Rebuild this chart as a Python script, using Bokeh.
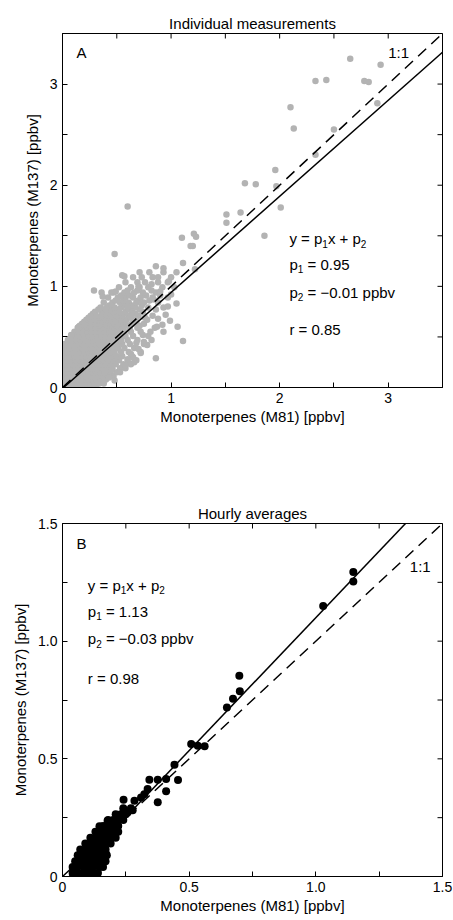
import math
from bokeh.plotting import figure
from bokeh.models import Range1d, FixedTicker
from bokeh.layouts import column
from bokeh.core.properties import value
from bokeh.embed import file_html
from bokeh.resources import INLINE

FONT = "Liberation Sans"

# ---------------- Panel A: individual measurements ----------------
title_a = "Individual measurements"
xlabel = "Monoterpenes (M81) [ppbv]"
ylabel = "Monoterpenes (M137) [ppbv]"

# dense cloud, read row by row: (M137 level, list of M81 values)
cloud_a = [
    (0.01, [0.00, 0.04, 0.07, 0.11, 0.14, 0.18, 0.21, 0.25, 0.28, 0.31]),
    (0.04, [0.02, 0.05, 0.09, 0.12, 0.16, 0.19, 0.23, 0.26, 0.30, 0.34]),
    (0.08, [0.00, 0.03, 0.07, 0.10, 0.14, 0.17, 0.21, 0.24, 0.28, 0.31, 0.35, 0.40]),
    (0.11, [0.01, 0.05, 0.08, 0.12, 0.15, 0.19, 0.22, 0.26, 0.29, 0.33, 0.37, 0.42, 0.47]),
    (0.15, [0.00, 0.03, 0.07, 0.10, 0.14, 0.17, 0.21, 0.24, 0.28, 0.31, 0.35, 0.39, 0.44, 0.50]),
    (0.19, [0.01, 0.05, 0.08, 0.12, 0.15, 0.19, 0.22, 0.26, 0.30, 0.33, 0.37, 0.41, 0.46, 0.53, 0.58]),
    (0.23, [0.00, 0.03, 0.07, 0.10, 0.14, 0.17, 0.21, 0.25, 0.28, 0.32, 0.36, 0.40, 0.44, 0.49, 0.56, 0.63]),
    (0.27, [0.01, 0.05, 0.08, 0.12, 0.16, 0.19, 0.23, 0.27, 0.30, 0.34, 0.38, 0.42, 0.47, 0.52, 0.60, 0.68]),
    (0.31, [0.00, 0.03, 0.07, 0.11, 0.14, 0.18, 0.22, 0.25, 0.29, 0.33, 0.37, 0.41, 0.45, 0.50, 0.55, 0.64]),
    (0.35, [0.01, 0.05, 0.09, 0.12, 0.16, 0.20, 0.24, 0.28, 0.31, 0.35, 0.39, 0.44, 0.48, 0.54, 0.61, 0.72]),
    (0.39, [0.03, 0.07, 0.11, 0.14, 0.18, 0.22, 0.26, 0.30, 0.34, 0.38, 0.42, 0.46, 0.51, 0.57, 0.66]),
    (0.43, [0.02, 0.06, 0.10, 0.14, 0.18, 0.22, 0.26, 0.30, 0.34, 0.38, 0.42, 0.46, 0.50, 0.55, 0.62, 0.75]),
    (0.47, [0.05, 0.09, 0.13, 0.17, 0.21, 0.25, 0.29, 0.33, 0.37, 0.41, 0.45, 0.49, 0.54, 0.60, 0.69]),
    (0.51, [0.08, 0.12, 0.16, 0.20, 0.24, 0.28, 0.32, 0.36, 0.40, 0.44, 0.48, 0.53, 0.58, 0.65, 0.79]),
    (0.55, [0.11, 0.15, 0.19, 0.23, 0.27, 0.31, 0.35, 0.39, 0.43, 0.47, 0.52, 0.57, 0.63, 0.72]),
    (0.59, [0.14, 0.19, 0.23, 0.27, 0.31, 0.35, 0.39, 0.43, 0.48, 0.52, 0.56, 0.62, 0.69, 0.85]),
    (0.61, [0.16, 0.25, 0.33, 0.41, 0.50, 0.60, 0.71]),
    (0.63, [0.18, 0.22, 0.27, 0.31, 0.35, 0.39, 0.44, 0.48, 0.53, 0.58, 0.64, 0.75]),
    (0.65, [0.20, 0.29, 0.37, 0.47, 0.56, 0.68]),
    (0.67, [0.22, 0.27, 0.31, 0.36, 0.40, 0.45, 0.49, 0.54, 0.59, 0.66, 0.78]),
    (0.69, [0.24, 0.33, 0.43, 0.52, 0.63, 0.76]),
    (0.71, [0.26, 0.31, 0.36, 0.41, 0.45, 0.50, 0.55, 0.61, 0.70, 0.83]),
    (0.73, [0.28, 0.39, 0.49, 0.57, 0.67]),
    (0.75, [0.30, 0.36, 0.42, 0.47, 0.52, 0.58, 0.64, 0.74]),
    (0.77, [0.33, 0.44, 0.51, 0.62, 0.71, 0.86]),
    (0.79, [0.35, 0.41, 0.48, 0.54, 0.60, 0.67, 0.79, 0.93]),
    (0.81, [0.43, 0.57, 0.64, 0.73]),
    (0.84, [0.38, 0.46, 0.53, 0.61, 0.68, 0.75, 0.88]),
    (0.86, [0.49, 0.56, 0.70, 0.80]),
    (0.89, [0.42, 0.51, 0.58, 0.65, 0.72, 0.83, 0.97]),
    (0.91, [0.54, 0.62, 0.77, 0.90]),
    (0.94, [0.36, 0.47, 0.57, 0.66, 0.74, 0.86]),
    (0.96, [0.60, 0.69, 0.82]),
    (0.99, [0.52, 0.63, 0.71, 0.79, 0.92, 1.03]),
    (1.04, [0.58, 0.69, 0.76, 0.88, 0.97]),
    (1.09, [0.65, 0.73, 0.83, 1.00]),
    (1.14, [0.71, 0.80, 0.93, 1.05]),
]

# scattered points around and above the cloud
a_x = [0.29, 0.45, 0.49, 0.55, 0.37, 0.97, 1.05, 0.86, 1.06, 1.11, 0.72, 0.78,
       0.93, 0.75, 0.65, 0.45, 0.63, 0.88, 0.95, 0.82, 0.70, 0.90, 0.60, 0.40,
       0.26, 0.15, 0.08, 0.20, 1.00, 0.98, 0.84, 0.88, 0.92, 0.99, 0.81, 0.70,
       0.53, 0.58, 0.66, 0.70, 0.74, 0.82, 0.87, 0.60, 0.68, 0.38, 0.43, 0.48,
       2.65, 2.93, 2.33, 2.43, 2.78, 2.82, 2.90, 2.10, 2.13, 2.50, 2.33, 1.96,
       1.68, 1.78, 1.97, 2.01, 0.60, 1.51, 1.64, 1.51, 1.86, 1.21, 1.23, 1.10,
       1.18, 1.20, 0.48, 1.11, 0.86, 0.93, 1.22, 0.57]
a_y = [0.96, 0.94, 0.95, 1.11, 0.90, 0.80, 0.83, 0.29, 0.60, 0.46, 0.34, 0.42,
       0.55, 0.45, 0.30, 0.17, 0.33, 0.68, 0.72, 1.02, 1.00, 0.95, 0.80, 0.78,
       0.70, 0.60, 0.52, 0.62, 0.92, 1.05, 0.87, 1.09, 0.62, 0.66, 0.55, 0.60,
       0.15, 0.22, 0.25, 0.38, 0.52, 0.47, 0.60, 0.28, 0.44, 0.04, 0.10, 0.07,
       3.25, 3.19, 3.03, 3.04, 3.03, 3.02, 2.81, 2.77, 2.56, 2.55, 2.30, 2.15,
       2.02, 2.01, 1.99, 1.78, 1.79, 1.71, 1.73, 1.63, 1.50, 1.52, 1.49, 1.48,
       1.40, 1.40, 1.32, 1.23, 1.20, 1.18, 1.17, 1.10]

fit_a = (0.95, -0.01)     # p1, p2
range_a = (0.0, 3.5)
ticks_a = [0, 1, 2, 3]
minor_a = [0.5, 1.5, 2.5, 3.5]
labels_a = {0: "0", 1: "1", 2: "2", 3: "3"}
eq_a = ["y = p₁x + p₂", "p₁ = 0.95", "p₂ = −0.01 ppbv", "r = 0.85"]
eq_a_pos = (2.09, [1.47, 1.22, 0.94, 0.57])
letter_a = ("A", 0.13, 3.31)
oneone_a = ("1:1", 3.00, 3.31)

# ---------------- Panel B: hourly averages ----------------
title_b = "Hourly averages"
cloud_b = [
    (0.015, [0.04, 0.06, 0.08, 0.10, 0.12, 0.14]),
    (0.04, [0.04, 0.06, 0.085, 0.10, 0.12, 0.145, 0.16]),
    (0.065, [0.05, 0.07, 0.09, 0.11, 0.13, 0.15, 0.17]),
    (0.09, [0.06, 0.08, 0.10, 0.12, 0.14, 0.16, 0.175]),
    (0.115, [0.07, 0.09, 0.11, 0.13, 0.15, 0.17]),
    (0.14, [0.09, 0.11, 0.13, 0.15, 0.17, 0.19]),
    (0.165, [0.11, 0.13, 0.15, 0.17, 0.19, 0.21]),
    (0.19, [0.13, 0.15, 0.17, 0.19, 0.21, 0.22]),
    (0.215, [0.16, 0.18, 0.20, 0.22]),
    (0.24, [0.18, 0.20, 0.22, 0.24]),
    (0.265, [0.21, 0.23, 0.25]),
    (0.29, [0.24, 0.27]),
]
b_x = [1.148, 1.148, 1.029, 0.698, 0.700, 0.673, 0.649, 0.508, 0.534, 0.561,
       0.442, 0.456, 0.343, 0.376, 0.409, 0.409, 0.376, 0.336, 0.323, 0.310,
       0.284, 0.241, 0.277, 0.257, 0.146, 0.178, 0.171]
b_y = [1.294, 1.254, 1.149, 0.853, 0.787, 0.755, 0.718, 0.563, 0.556, 0.553,
       0.475, 0.410, 0.411, 0.411, 0.414, 0.362, 0.316, 0.372, 0.350, 0.336,
       0.322, 0.326, 0.282, 0.272, 0.213, 0.237, 0.098]

fit_b = (1.13, -0.03)
range_b = (0.0, 1.5)
ticks_b = [0, 0.5, 1.0, 1.5]
minor_b = [0.25, 0.75, 1.25]
labels_b = {0: "0", 0.5: "0.5", 1: "1.0", 1.5: "1.5"}
eq_b = ["y = p₁x + p₂", "p₁ = 1.13", "p₂ = −0.03 ppbv", "r = 0.98"]
eq_b_pos = (0.10, [1.237, 1.128, 1.010, 0.842])
letter_b = ("B", 0.055, 1.417)
oneone_b = ("1:1", 1.371, 1.317)

MAIN = 15
SUB = 10
WID = {'y': 500, ' ': 278, '=': 584, 'p': 556, 'x': 500, '+': 584, '.': 278,
       '−': 584, 'b': 556, 'v': 500, 'r': 333}


def tw(s, size):
    return sum(WID.get(c, 556) for c in s) * size / 1000.0


def split_sub(s):
    parts = []
    for c in s:
        if c in "₁₂":
            parts.append(("12"["₁₂".index(c)], True))
        else:
            if parts and not parts[-1][1]:
                parts[-1] = (parts[-1][0] + c, False)
            else:
                parts.append((c, False))
    return parts


def rich_text(p, x, y, s):
    off = 0.0
    for txt, sub in split_sub(s):
        size = SUB if sub else MAIN
        stripped = txt.lstrip(" ")
        off += tw(txt[:len(txt) - len(stripped)], size)
        p.text(x=[x], y=[y], text=[stripped], x_offset=off, y_offset=(5 if sub else 0),
               text_font=value(FONT), text_font_size=f"{size}px",
               text_align="left", text_baseline="middle", text_color="black")
        off += tw(stripped, size)


def style_axis(ax, ticker, labels):
    ax.ticker = ticker
    ax.major_tick_in = 5
    ax.major_tick_out = 0
    ax.minor_tick_in = 5
    ax.minor_tick_out = 0
    ax.axis_line_color = "black"
    ax.major_tick_line_color = "black"
    ax.minor_tick_line_color = "black"
    ax.major_label_overrides = labels
    ax.major_label_text_font = FONT
    ax.major_label_text_font_size = "14px"
    ax.major_label_text_color = "black"
    ax.major_label_standoff = 5
    ax.axis_label_text_font = FONT
    ax.axis_label_text_font_size = "15px"
    ax.axis_label_text_font_style = "normal"
    ax.axis_label_text_color = "black"


def make_panel(height, top, bottom, title, rng, ticks, minor, labels,
               cloud, px, py, color, size, fit, eq, eq_pos, letter, oneone):
    p = figure(width=453, height=height, x_range=Range1d(*rng), y_range=Range1d(*rng),
               output_backend="svg", toolbar_location=None,
               min_border_left=62, min_border_right=11,
               min_border_top=top, min_border_bottom=bottom,
               background_fill_color="white", border_fill_color="white")
    p.title.text = title
    p.title.align = "center"
    p.title.text_font = FONT
    p.title.text_font_size = "15px"
    p.title.text_font_style = "normal"
    p.title.text_color = "black"
    p.title.standoff = 3
    p.grid.visible = False
    p.outline_line_color = "black"

    ticker = FixedTicker(ticks=ticks, minor_ticks=minor)
    style_axis(p.xaxis[0], ticker, labels)
    style_axis(p.yaxis[0], ticker, labels)
    p.xaxis[0].axis_label = xlabel
    p.yaxis[0].axis_label = ylabel
    p.xaxis[0].axis_label_standoff = 2
    p.yaxis[0].axis_label_standoff = 6

    # inward ticks on the top and right edges (half of each dash is clipped away)
    all_ticks = sorted(ticks + minor)
    p.scatter(all_ticks, [rng[1]] * len(all_ticks), marker="dash", size=10,
              angle=math.pi / 2, line_color="black", line_width=1)
    p.scatter([rng[1]] * len(all_ticks), all_ticks, marker="dash", size=10,
              angle=0, line_color="black", line_width=1)

    xs, ys = [], []
    for yv, row in cloud:
        for xv in row:
            xs.append(xv)
            ys.append(yv)
    xs += px
    ys += py
    p.scatter(xs, ys, size=size, color=color, line_color=None)

    p1, p2 = fit
    x0 = max(rng[0], (rng[0] - p2) / p1)
    x1 = min(rng[1], (rng[1] - p2) / p1)
    p.line([x0, x1], [p1 * x0 + p2, p1 * x1 + p2], color="black", line_width=1.5)
    p.line([rng[0], rng[1]], [rng[0], rng[1]], color="black", line_width=1.5,
           line_dash="11 7")

    ex, eys = eq_pos
    for s, yv in zip(eq, eys):
        rich_text(p, ex, yv, s)
    for t, tx, ty in (letter, oneone):
        p.text(x=[tx], y=[ty], text=[t], text_font=value(FONT), text_font_size=f"{MAIN}px",
               text_align="left", text_baseline="middle", text_color="black")
    return p


pa = make_panel(450, 33, 63, title_a, range_a, ticks_a, minor_a, labels_a,
                cloud_a, a_x, a_y, "#b3b3b3", 6.5, fit_a, eq_a, eq_a_pos, letter_a, oneone_a)
pb = make_panel(470, 73, 44, title_b, range_b, ticks_b, minor_b, labels_b,
                cloud_b, b_x, b_y, "black", 8, fit_b, eq_b, eq_b_pos, letter_b, oneone_b)

layout = column(pa, pb, spacing=0)
open("out.html", "w").write(file_html(layout, INLINE))
